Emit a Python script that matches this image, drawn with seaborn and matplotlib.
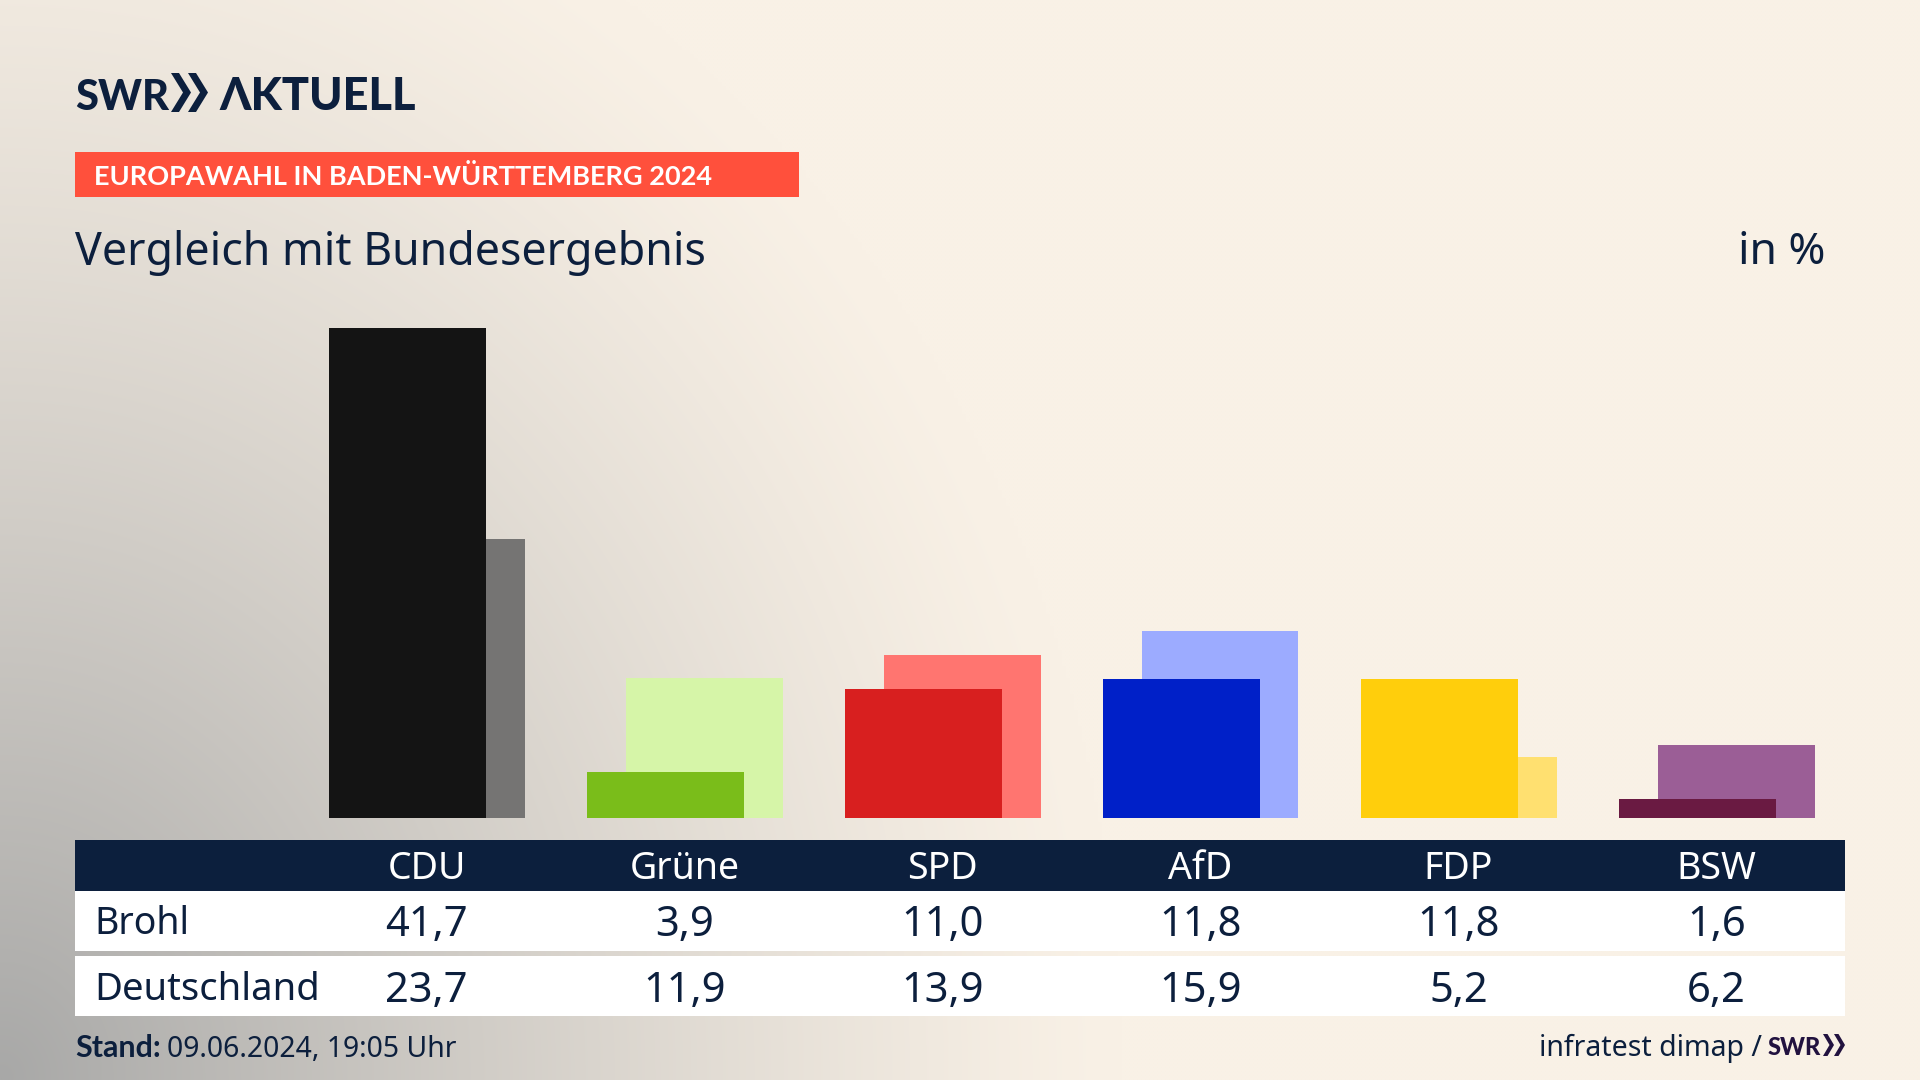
import numpy as np
import pandas as pd
import matplotlib
matplotlib.use('Agg')
import matplotlib.pyplot as plt
import seaborn as sns
from matplotlib.patches import Rectangle, Polygon

# ========================================
# Daten
# ========================================
parties = ['CDU', 'Grüne', 'SPD', 'AfD', 'FDP', 'BSW']
brohl = [41.7, 3.9, 11.0, 11.8, 11.8, 1.6]
deutschland = [23.7, 11.9, 13.9, 15.9, 5.2, 6.2]
dark_colors = ['#141414', '#7ABD1A', '#D81F1F', '#0020C8', '#FFCE0C', '#6A1A42']
light_colors = ['#757473', '#D6F5A8', '#FF7570', '#9CABFF', '#FFE070', '#9B5E96']

NAVY = '#0C1F3D'
CREAM = np.array([249, 241, 230]) / 255
GRAY = np.array([168, 168, 167]) / 255
FONT = 'Noto Sans'
BOLD = 'Lato'

sns.set_theme(style='white')
plt.rcParams['font.family'] = [FONT, 'DejaVu Sans']

fig = plt.figure(figsize=(19.2, 10.8), dpi=100)

# Hintergrund und Tabelle in Pixelkoordinaten
bg = fig.add_axes([0, 0, 1, 1], zorder=0)
bg.set_xlim(0, 1920)
bg.set_ylim(1080, 0)
bg.axis('off')

yy, xx = np.mgrid[0:1080:270j, 0:1920:480j]
dist = np.sqrt((xx / 1120) ** 2 + ((1080 - yy) / 1300) ** 2)
t = np.clip(1 - dist, 0, 1) ** 1.25
img = CREAM[None, None, :] * (1 - t[..., None]) + GRAY[None, None, :] * t[..., None]
bg.imshow(img, extent=(0, 1920, 1080, 0), aspect='auto', interpolation='bilinear')


def chevrons(x, top, bottom, width, stroke, color):
    mid = (top + bottom) / 2
    for x0 in x:
        bg.add_patch(Polygon([(x0, top), (x0 + stroke, top), (x0 + width, mid),
                              (x0 + stroke, bottom), (x0, bottom),
                              (x0 + width - stroke, mid)], color=color, lw=0))


# Logo
bg.text(75, 110, 'SWR', fontsize=30, family=BOLD, weight='black', color=NAVY, va='baseline')
chevrons([171, 188], 73, 112, 20, 8, NAVY)
bg.text(219, 110, 'ɅKTUELL', fontsize=32.5, family=[BOLD, 'Noto Sans'], weight='black', color=NAVY, va='baseline')

# Kopfzeile
bg.add_patch(Rectangle((75, 152), 724, 45, color='#FF503C', lw=0))
bg.text(94, 185, 'EUROPAWAHL IN BADEN-WÜRTTEMBERG 2024', fontsize=19.55, family=BOLD, weight='bold',
        color='white', va='baseline')
bg.text(75, 264.5, 'Vergleich mit Bundesergebnis', fontsize=32.2, color=NAVY, va='baseline')
bg.text(1825, 264.5, 'in %', fontsize=32, color=NAVY, va='baseline', ha='right')

# Balken
ax = fig.add_axes([297.5 / 1920, (1080 - 818) / 1080, 1548 / 1920, 518 / 1080], zorder=1)
ax.patch.set_alpha(0)

pos = np.arange(len(parties))
bar_w = 157 / 258
shift = 19.5 / 258
df_bund = pd.DataFrame({'pos': pos + shift, 'wert': deutschland, 'partei': parties})
df_brohl = pd.DataFrame({'pos': pos - shift, 'wert': brohl, 'partei': parties})

sns.barplot(data=df_bund, x='pos', y='wert', hue='partei', palette=light_colors, linewidth=0,
            native_scale=True, dodge=False, width=bar_w, saturation=1, legend=False, ax=ax)
sns.barplot(data=df_brohl, x='pos', y='wert', hue='partei', palette=dark_colors, linewidth=0,
            native_scale=True, dodge=False, width=bar_w, saturation=1, legend=False, ax=ax)
ax.set_xlim(-0.5, 5.5)
ax.set_ylim(0, 518 / 11.76)
ax.axis('off')

# Tabelle
bg.add_patch(Rectangle((75, 840), 1770, 51, color=NAVY, lw=0))
bg.add_patch(Rectangle((75, 891), 1770, 60, color='white', lw=0))
bg.add_patch(Rectangle((75, 956), 1770, 60, color='white', lw=0))

col_x = 426.5 + 258 * pos


def fmt(v):
    return f'{v:.1f}'.replace('.', ',')


for x, party, a, b in zip(col_x, parties, brohl, deutschland):
    bg.text(x, 879, party, fontsize=27, color='white', ha='center', va='baseline')
    bg.text(x, 936, fmt(a), fontsize=30, color=NAVY, ha='center', va='baseline')
    bg.text(x, 1002, fmt(b), fontsize=30, color=NAVY, ha='center', va='baseline')

bg.text(94, 934, 'Brohl', fontsize=27, color=NAVY, va='baseline')
bg.text(94, 1000, 'Deutschland', fontsize=27.5, color=NAVY, va='baseline')

# Fusszeile
bg.text(75, 1057, 'Stand:', fontsize=22, family=BOLD, weight='bold', color=NAVY, va='baseline')
bg.text(167, 1057, '09.06.2024, 19:05 Uhr', fontsize=20.4, color=NAVY, va='baseline')
bg.text(1762, 1056, 'infratest dimap /', fontsize=20.5, color=NAVY, va='baseline', ha='right')
bg.text(1768, 1055, 'SWR', fontsize=17, family=BOLD, weight='black', color='#22123F', va='baseline')
chevrons([1823, 1834], 1034, 1056, 11, 4.5, '#22123F')

fig.savefig('out.png', dpi=100)
